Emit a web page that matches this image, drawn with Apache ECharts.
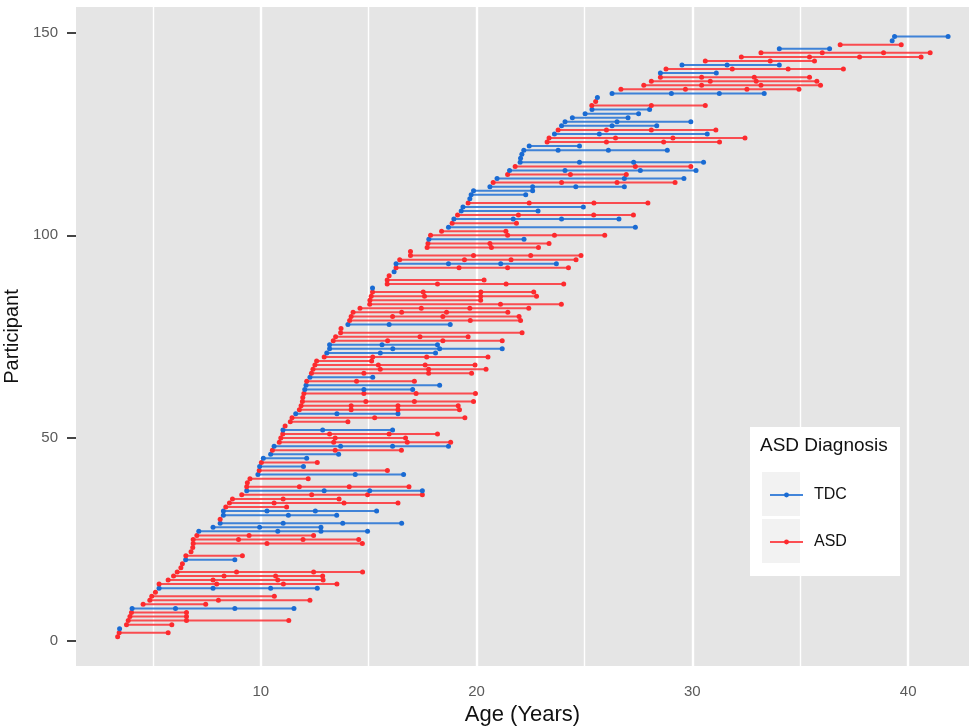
<!DOCTYPE html>
<html>
<head>
<meta charset="utf-8">
<script src="https://cdn.jsdelivr.net/npm/echarts@6/dist/echarts.min.js"></script>
<style>html,body{margin:0;padding:0;background:#fff;}#c{width:979px;height:726px;}</style>
</head>
<body>
<div id="c"></div>
<script>
// Diagnosis per participant (1..149), A = ASD, T = TDC
const diagnosisCodes = [
  "AATAAAATAA", "AATAAAAAAT", "AAAAAATTTA", "TTAAAATAAA", "TATATTATAA",
  "ATAAATAAAA", "ATTATAAAAA", "TTTAAAATAA", "AAAAAATAAA", "TATAAAAATA",
  "ATATATTATT", "TTATATATTT", "TTAATATTTT", "TAATTAAAAT", "ATAAATATT"
];
// Ages at each visit, per participant 1..149
const visitAges = [
  [3.37],[3.44,5.71],[3.46],[3.78,5.88],[3.86,6.56,11.30],[3.94,6.56],[4.01,6.56],[4.04,6.05,8.80,11.54],[4.55,7.45],[4.86,8.04,12.28],
  [4.95,10.63],[5.12],[5.29,7.79,10.46,12.62],[5.29,7.96,11.05,13.53],[5.71,7.79,10.79,12.89],[5.96,8.30,10.69,12.87],[6.13,8.88,12.45,14.72],[6.30],[6.37],[6.52,8.80],
  [6.53,9.15],[6.77],[6.85],[6.87,10.29,14.71],[6.87,8.97,11.96,14.54],[7.04,9.46,12.45],[7.13,10.79,12.79,14.95],[7.79,9.95,12.79],[8.12,11.04,13.80,16.53],[8.12],
  [8.27,11.28,13.52],[8.27,10.29,12.53,15.37],[8.38,11.20],[8.55,10.62,13.86,16.36],[8.69,11.04,13.63],[9.12,12.36,14.95,17.49],[9.35,12.94,15.05,17.49],[9.35,11.79,14.10,16.87],[9.38],[9.50,12.20],
  [9.87,14.38,16.62],[9.93,15.87],[9.95,11.98],[10.03,12.62],[10.12,12.13],[10.46,13.61],[10.54,13.45,16.52],[10.62,13.70,16.11,18.70],[10.86,13.38,16.79,18.80],[10.93,13.45,16.71],
  [11.02,13.19,15.95,18.19],[11.03,12.87,16.11],[11.13],[11.37,14.04],[11.45,15.28,19.46],[11.62,13.53,16.36],[11.79,14.19,16.36,19.21],[11.87,14.19,16.36,19.15],[11.93,14.87,17.12,19.86],[11.95],
  [12.00,14.78,17.20,19.95],[12.04,14.78,17.04],[12.10,18.29],[12.13,14.44,17.12],[12.28,15.19],[12.35,14.78,17.78,19.77],[12.42,15.54,17.78,20.44],[12.51,15.45,17.62,19.93],[12.59,15.14],[12.94,15.19,17.69,20.53],
  [13.06,15.54,18.10],[13.19,16.12,18.29,21.19],[13.19,15.62,18.19],[13.36,15.88,18.44,21.19],[13.47,17.38,19.61],[13.70,22.11],[13.72],[14.04,15.95,18.78],[14.12,19.71,22.04],[14.19,16.11,18.44,21.97],
  [14.28,16.53,18.61,21.45],[14.60,17.44,19.69,22.42],[15.05,21.11,23.93],[15.06,20.19],[15.12,17.59,20.19,22.78],[15.18,17.53,20.20,22.65],[15.18],[15.86,18.19,21.37,24.04],[15.86,20.35],[15.95],
  [16.18],[16.27,19.19,21.44,24.26],[16.27,18.70,21.12,23.70],[16.44,19.44,21.60,24.61],[16.94,19.86,22.51,24.84],[16.94],[17.71,20.69,22.87],[17.75,20.62,23.36],[17.79,22.20],[17.87,21.44,23.61,25.94],
  [18.38,21.36],[18.70,27.36],[18.87,21.85],[18.95,21.70,23.94,26.60],[19.12,21.94,25.43,27.27],[19.29,22.85],[19.37,24.95],[19.61,22.44,25.44,27.94],[19.69],[19.75,22.28],
  [19.86,22.60],[20.62,22.60,24.60,26.85],[20.77,23.94,26.51,29.20],[20.95,26.85,29.61],[21.44,24.35,26.94],[21.53,24.10,27.59,30.17],[21.79,27.36,29.93],[22.02,24.77,27.28,30.52],[22.04],[22.10],
  [22.19,23.78,26.11,28.84],[22.44,24.77],[23.27,26.02,28.67,31.26],[23.36,26.44,29.10,32.44],[23.61,25.69,30.69],[23.78,26.02,28.10,31.09],[23.94,26.28,28.35],[24.10,26.51,29.93],[24.44,27.02],[25.03,27.51],
  [25.35,28.02],[25.34,28.10,30.60],[25.52],[25.60],[26.28,29.03,31.25,33.33],[26.69,29.68,32.53,34.94],[27.75,30.43,33.18,35.94],[28.10,30.83,32.96,35.77],[28.52,30.43,32.87,35.43],[28.52,31.11],
  [28.78,31.85,34.44,37.00],[29.52,31.61,34.03],[30.60,33.61,35.66],[32.27,35.43,37.75,40.60],[33.18,36.02,38.86,41.02],[34.03,36.36],[36.85,39.68],[39.26],[39.37,41.85]
];
const legendLabels = ["TDC", "ASD"];
const xTickValues = [10, 20, 30, 40];
const yTickValues = [0, 50, 100, 150];
const majorGrid = [10, 20, 30, 40];
const minorGrid = [5, 15, 25, 35];

const COLORS = { TDC: '#1a6bd3', ASD: '#fd2a2e' };
const codeName = { T: 'TDC', A: 'ASD' };
const diagnosis = diagnosisCodes.join('').split('').map(c => codeName[c]);
const FONT = 'Liberation Sans, Arial, sans-serif';

const series = visitAges.map((ages, i) => {
  const name = diagnosis[i];
  const id = i + 1;
  return {
    type: 'line',
    name: name,
    data: ages.map(a => [a, id]),
    symbol: 'circle',
    symbolSize: 5,
    showSymbol: true,
    lineStyle: { color: COLORS[name], width: 2, opacity: 0.82 },
    itemStyle: { color: COLORS[name], borderWidth: 0 },
    emphasis: { disabled: true },
    silent: true,
    z: 3
  };
});
// gridlines as markLines on first series
series[0].markLine = {
  silent: true,
  symbol: 'none',
  label: { show: false },
  animation: false,
  z: 1,
  data: majorGrid.map(v => ({ xAxis: v, lineStyle: { color: '#ffffff', width: 2.4, type: 'solid' } }))
    .concat(minorGrid.map(v => ({ xAxis: v, lineStyle: { color: '#ffffff', width: 1.4, type: 'solid' } })))
};

const chart = echarts.init(document.getElementById('c'), null, { renderer: 'canvas' });
chart.setOption({
  animation: false,
  backgroundColor: '#ffffff',
  grid: { left: 76, top: 7, width: 893, height: 659, show: true, backgroundColor: '#e5e5e5', borderWidth: 0,
          containLabel: false, outerBoundsMode: 'none' },
  xAxis: {
    type: 'value', min: 1.44, max: 42.82,
    name: 'Age (Years)', nameLocation: 'middle', nameGap: 38,
    nameTextStyle: { fontSize: 22, color: '#111', fontFamily: FONT },
    axisLine: { show: false },
    axisTick: { show: true, customValues: xTickValues, length: 9, lineStyle: { color: '#444', width: 2 } },
    axisLabel: { customValues: xTickValues, fontSize: 15, color: '#5a5a5a', margin: 18, fontFamily: FONT },
    splitLine: { show: false }
  },
  yAxis: {
    type: 'value', min: -6.2, max: 156.3,
    name: 'Participant', nameLocation: 'middle', nameGap: 38, nameRotate: 90,
    nameTextStyle: { fontSize: 20, color: '#111', fontFamily: FONT },
    axisLine: { show: false },
    axisTick: { show: true, customValues: yTickValues, length: 9, lineStyle: { color: '#444', width: 2 } },
    axisLabel: { customValues: yTickValues, fontSize: 15, color: '#5a5a5a', margin: 18, fontFamily: FONT },
    splitLine: { show: false }
  },
  legend: [
    { data: [legendLabels[0]], orient: 'vertical', left: 764, top: 482, itemWidth: 33, itemHeight: 6, z: 20,
      textStyle: { fontSize: 16, color: '#111', padding: [0, 0, 0, 6], fontFamily: FONT }, selectedMode: false },
    { data: [legendLabels[1]], orient: 'vertical', left: 764, top: 529, itemWidth: 33, itemHeight: 6, z: 20,
      textStyle: { fontSize: 16, color: '#111', padding: [0, 0, 0, 6], fontFamily: FONT }, selectedMode: false }
  ],
  graphic: [
    { type: 'rect', shape: { x: 750, y: 427, width: 150, height: 149 }, style: { fill: '#ffffff' }, z: 10, silent: true },
    { type: 'rect', shape: { x: 762, y: 472, width: 38, height: 44 }, style: { fill: '#f2f2f2' }, z: 11, silent: true },
    { type: 'rect', shape: { x: 762, y: 519, width: 38, height: 44 }, style: { fill: '#f2f2f2' }, z: 11, silent: true },
    { type: 'text', x: 760, y: 436, style: { text: 'ASD Diagnosis', fontSize: 19, fill: '#111', fontFamily: FONT }, z: 12, silent: true }
  ],
  series: series
});
</script>
</body>
</html>
